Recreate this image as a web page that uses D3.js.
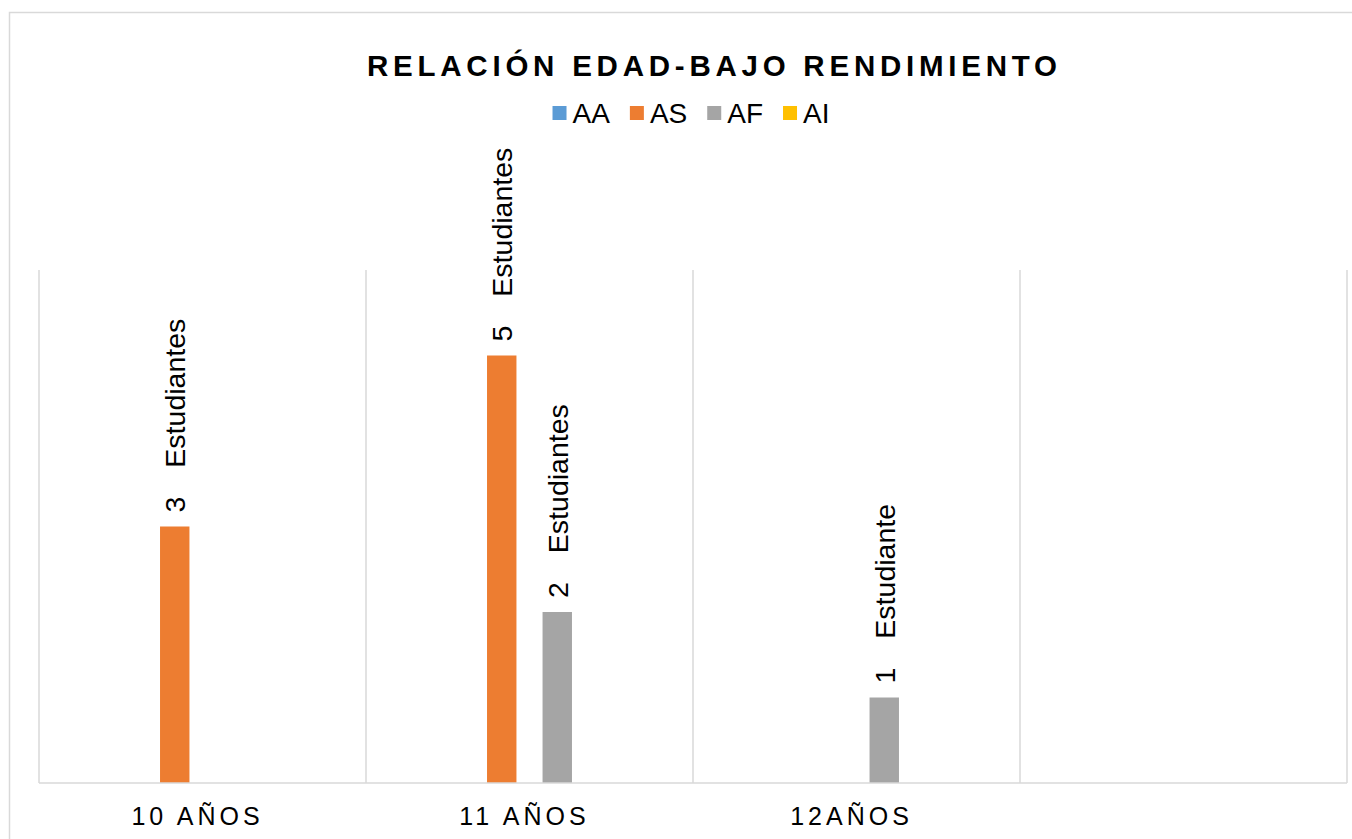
<!DOCTYPE html>
<html>
<head>
<meta charset="utf-8">
<script src="https://cdn.jsdelivr.net/npm/d3@7"></script>
<style>
  html, body { margin: 0; padding: 0; background: #fff; }
  svg { display: block; font-family: "Liberation Sans", Arial, sans-serif; }
</style>
</head>
<body>
<script>
// chart data
const categories = ["10 AÑOS", "11 AÑOS", "12AÑOS", ""];
const seriesNames = ["AA", "AS", "AF", "AI"];
const seriesColors = ["#5B9BD5", "#ED7D31", "#A5A5A5", "#FFC000"];
const valuesAA = [null, null, null, null];
const valuesAS = [3, 5, null, null];
const valuesAF = [null, 2, 1, null];
const valuesAI = [null, null, null, null];
const titleText = "RELACIÓN EDAD-BAJO RENDIMIENTO";
const unitOne = "Estudiante";
const unitMany = "Estudiantes";

const width = 1352, height = 839;
const plot = { left: 39, right: 1347, top: 270, bottom: 783 };

const svg = d3.select("body").append("svg")
   .attr("width", width)
   .attr("height", height);

// outer chart frame (runs past the right and bottom edges)
svg.append("rect")
   .attr("x", 9.5).attr("y", 12.5)
   .attr("width", 1400).attr("height", 900)
   .style("fill", "none")
   .style("stroke", "#d9d9d9")
   .style("stroke-width", 1.5);

const allSeries = [valuesAA, valuesAS, valuesAF, valuesAI];
const bars = [];
seriesNames.forEach((s, si) => {
   categories.forEach((c, ci) => {
      const v = allSeries[si][ci];
      if (v != null) bars.push({ series: s, cat: c, value: v, color: seriesColors[si] });
   });
});

const x0 = d3.scaleBand()
   .domain(categories)
   .range([plot.left, plot.right])
   .padding(0);

const x1 = d3.scaleBand()
   .domain(seriesNames)
   .range([0, x0.bandwidth()])
   .paddingInner(0.47)
   .paddingOuter(1.18);

const y = d3.scaleLinear()
   .domain([0, 6])
   .range([plot.bottom, plot.top]);

// vertical category gridlines
const gridX = categories.map(c => x0(c)).concat([x0(categories[categories.length - 1]) + x0.bandwidth()]);
svg.append("g").selectAll("line")
   .data(gridX)
   .enter().append("line")
   .attr("x1", d => d).attr("x2", d => d)
   .attr("y1", plot.top).attr("y2", plot.bottom)
   .style("stroke", "#d9d9d9")
   .style("stroke-width", 1.5);

// bars
svg.append("g").selectAll("rect")
   .data(bars)
   .enter().append("rect")
   .attr("x", d => x0(d.cat) + x1(d.series))
   .attr("y", d => y(d.value))
   .attr("width", x1.bandwidth())
   .attr("height", d => y(0) - y(d.value))
   .style("fill", d => d.color);

// baseline
svg.append("line")
   .attr("x1", plot.left).attr("x2", plot.right)
   .attr("y1", y(0)).attr("y2", y(0))
   .style("stroke", "#d9d9d9")
   .style("stroke-width", 1.5);

// rotated data labels
const labels = svg.append("g").selectAll("text")
   .data(bars)
   .enter().append("text")
   .attr("transform", d => {
      const cx = x0(d.cat) + x1(d.series) + x1.bandwidth() / 2;
      return `translate(${cx},${y(d.value) - 14}) rotate(-90)`;
   })
   .attr("dy", "0.36em")
   .style("font-size", "28.5px")
   .style("fill", "#000");
labels.append("tspan").text(d => d.value);
labels.append("tspan").attr("dx", 29).text(d => d.value === 1 ? unitOne : unitMany);

// category labels
svg.append("g").selectAll("text")
   .data(categories)
   .enter().append("text")
   .attr("x", d => x0(d) + x0.bandwidth() / 2)
   .attr("y", 825)
   .attr("dx", -5)
   .attr("text-anchor", "middle")
   .style("font-size", "25px")
   .style("letter-spacing", "4px")
   .style("fill", "#000")
   .text(d => d);

// title, letter-spaced to its width
svg.append("text")
   .attr("x", 712)
   .attr("y", 76)
   .attr("text-anchor", "middle")
   .attr("textLength", 690)
   .attr("lengthAdjust", "spacing")
   .style("font-size", "29.5px")
   .style("font-weight", "bold")
   .style("fill", "#000")
   .text(titleText);

// legend
const legend = svg.append("g");
let lx = 0;
seriesNames.forEach((s, i) => {
   legend.append("rect")
      .attr("x", lx).attr("y", 106)
      .attr("width", 14).attr("height", 14)
      .style("fill", seriesColors[i]);
   const t = legend.append("text")
      .attr("x", lx + 20).attr("y", 123)
      .style("font-size", "28px")
      .style("fill", "#000")
      .text(s);
   lx += 20 + t.node().getComputedTextLength() + 20;
});
const lb = legend.node().getBBox();
legend.attr("transform", `translate(${691 - (lb.x + lb.width / 2)},0)`);
</script>
</body>
</html>
